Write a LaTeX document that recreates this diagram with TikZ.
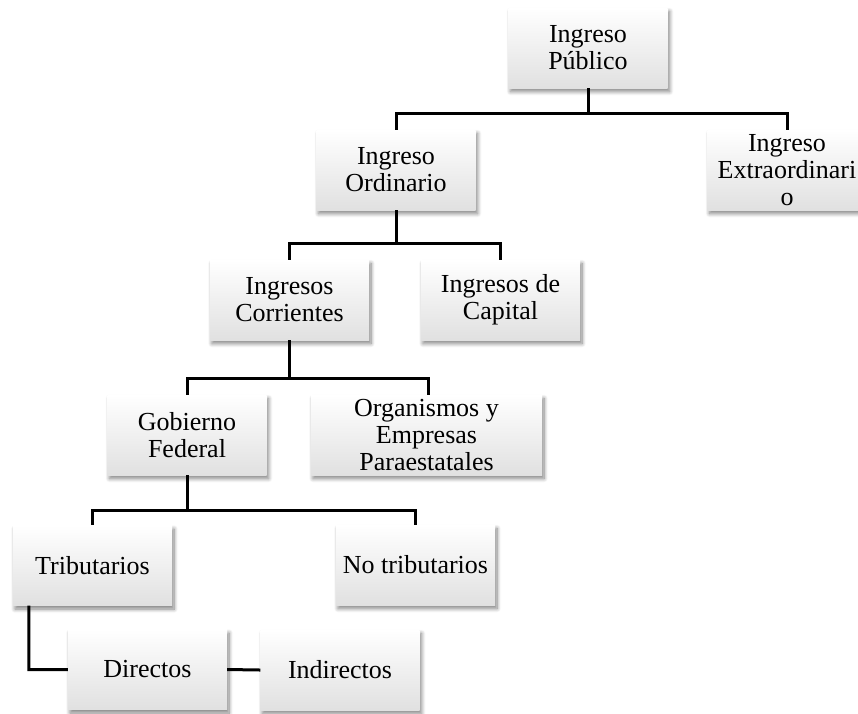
\documentclass[tikz,border=0pt]{standalone}
\usepackage{fontspec}
\setmainfont{Liberation Serif}
\usepackage{tikz}
\usetikzlibrary{positioning}
\usetikzlibrary{shadows.blur}

\begin{document}
\begin{tikzpicture}[x=1pt,y=-1pt,
  box/.style={rectangle,minimum width=159pt,minimum height=80pt,inner sep=2pt,align=center,
    top color=white,bottom color=black!12,
    blur shadow={shadow blur steps=8,shadow blur radius=4pt,shadow xshift=2pt,shadow yshift=-3.5pt,shadow opacity=50},
    font=\fontsize{26}{27}\selectfont},
  link/.style={draw=black,line width=3pt}]
  \useasboundingbox (0,0) rectangle (858,713);

  \node[box]                     (Publico)    at (588,48)    {Ingreso\\Público};
  \node[box]                     (Extra)      at (787,170)   {Ingreso\\Extraordinari\\o};
  \node[box]                     (Ordinario)  at (396,170)   {Ingreso\\Ordinario};
  \node[box]                     (Corrientes) at (289.5,300) {Ingresos\\Corrientes};
  \node[box]                     (Capital)    at (500.5,300) {Ingresos de\\Capital};
  \node[box]                     (Gobierno)   at (187,435)   {Gobierno\\Federal};
  \node[box,minimum width=231pt] (Organismos) at (426.5,435) {Organismos y\\Empresas\\Paraestatales};
  \node[box]                     (Tributarios) at (92.5,565.5) {Tributarios};
  \node[box]                     (NoTrib)     at (415.5,565) {No tributarios};
  \node[box]                     (Directos)   at (147.5,669.5) {Directos};
  \node[box]                     (Indirectos) at (340,670)   {Indirectos};

  \path[link]
     (Publico.south)    -- ++(0,-25pt) -| (Ordinario.north)
     (Publico.south)    -- ++(0,-25pt) -| (Extra.north)
     (Ordinario.south)  -- ++(0,-33pt) -| (Corrientes.north)
     (Ordinario.south)  -- ++(0,-33pt) -| (Capital.north)
     (Corrientes.south) -- ++(0,-38pt) -| (Gobierno.north)
     (Corrientes.south) -- ++(0,-38pt) -| ([xshift=1.5pt]Organismos.north)
     (Gobierno.south)   -- ++(0,-35pt) -| (Tributarios.north)
     (Gobierno.south)   -- ++(0,-35pt) -| (NoTrib.north);
  \path[link]
     ([xshift=16pt]Tributarios.south west) |- (Directos.west)
     (Directos.east) -- (Indirectos.west);
\end{tikzpicture}
\end{document}
